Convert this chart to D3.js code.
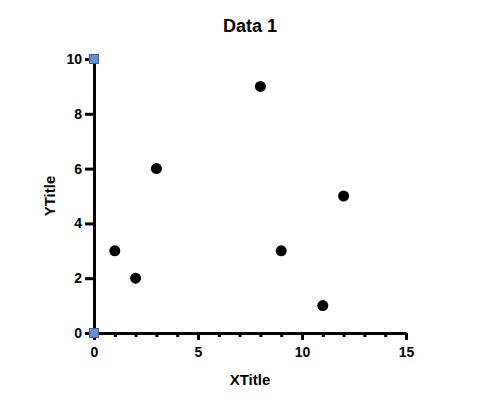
<!DOCTYPE html>
<html>
<head>
<meta charset="utf-8">
<script src="https://cdn.jsdelivr.net/npm/d3@7"></script>
<style>
  body { margin: 0; background: #fff; }
  svg { display: block; font-family: Arial, "Liberation Sans", sans-serif; }
</style>
</head>
<body>
<div id="chart"></div>
<script>
// Data
const xValues = [1, 2, 3, 8, 9, 11, 12];
const yValues = [3, 2, 6, 9, 3, 1, 5];
const xMajorTicks = [0, 5, 10, 15];
const xMinorTicks = [1, 2, 3, 4, 6, 7, 8, 9, 11, 12, 13, 14];
const yTicks = [0, 2, 4, 6, 8, 10];
const handleYs = [10, 0]; // the two blue axis handles at x = 0

const width = 482, height = 411;
const margin = { top: 59, right: 76, bottom: 78, left: 94 };

const svg = d3.select('#chart')
  .append('svg')
  .attr('width', width)
  .attr('height', height);

const x = d3.scaleLinear().domain([0, 15]).range([margin.left, width - margin.right]);
const y = d3.scaleLinear().domain([0, 10]).range([height - margin.bottom, margin.top]);

// Title
svg.append('text')
  .attr('x', 250)
  .attr('y', 32)
  .attr('text-anchor', 'middle')
  .style('font-size', '18px')
  .style('font-weight', 'bold')
  .text('Data 1');

// X axis with major ticks
svg.append('g')
  .attr('transform', `translate(0,${y(0)})`)
  .call(d3.axisBottom(x).tickValues(xMajorTicks).tickSize(7).tickPadding(7).tickSizeOuter(0));

// minor ticks
svg.append('g')
  .attr('transform', `translate(0,${y(0)})`)
  .call(d3.axisBottom(x).tickValues(xMinorTicks).tickSize(4).tickFormat('').tickSizeOuter(0))
  .call(g => g.select('.domain').remove());

// Y axis
svg.append('g')
  .attr('transform', `translate(${x(0)},0)`)
  .call(d3.axisLeft(y).tickValues(yTicks).tickSize(9).tickPadding(3).tickSizeOuter(0));

svg.selectAll('.domain').attr('stroke', '#000').attr('stroke-width', 3);
svg.selectAll('.tick line').attr('stroke', '#000').attr('stroke-width', 3);
svg.selectAll('.tick text')
  .attr('fill', '#000')
  .style('font-size', '14px')
  .style('font-weight', 'bold')
  .style('font-family', 'Arial, "Liberation Sans", sans-serif');

// Axis titles
svg.append('text')
  .attr('x', 250)
  .attr('y', 385)
  .attr('text-anchor', 'middle')
  .style('font-size', '15px')
  .style('font-weight', 'bold')
  .text('XTitle');

svg.append('text')
  .attr('transform', `translate(55,${(y(0) + y(10)) / 2}) rotate(-90)`)
  .attr('text-anchor', 'middle')
  .style('font-size', '15px')
  .style('font-weight', 'bold')
  .text('YTitle');

// Points
svg.selectAll('.pt')
  .data(xValues)
  .enter()
  .append('circle')
  .attr('class', 'pt')
  .attr('cx', d => x(d))
  .attr('cy', (d, i) => y(yValues[i]))
  .attr('r', 5.5)
  .attr('fill', '#000');

// Blue handles
svg.selectAll('.handle')
  .data(handleYs)
  .enter()
  .append('rect')
  .attr('class', 'handle')
  .attr('x', x(0) - 4.5)
  .attr('y', d => y(d) - 4.5)
  .attr('width', 9)
  .attr('height', 9)
  .attr('fill', '#6a8fd0')
  .attr('stroke', '#3b5b9b')
  .attr('stroke-width', 1);
</script>
</body>
</html>
